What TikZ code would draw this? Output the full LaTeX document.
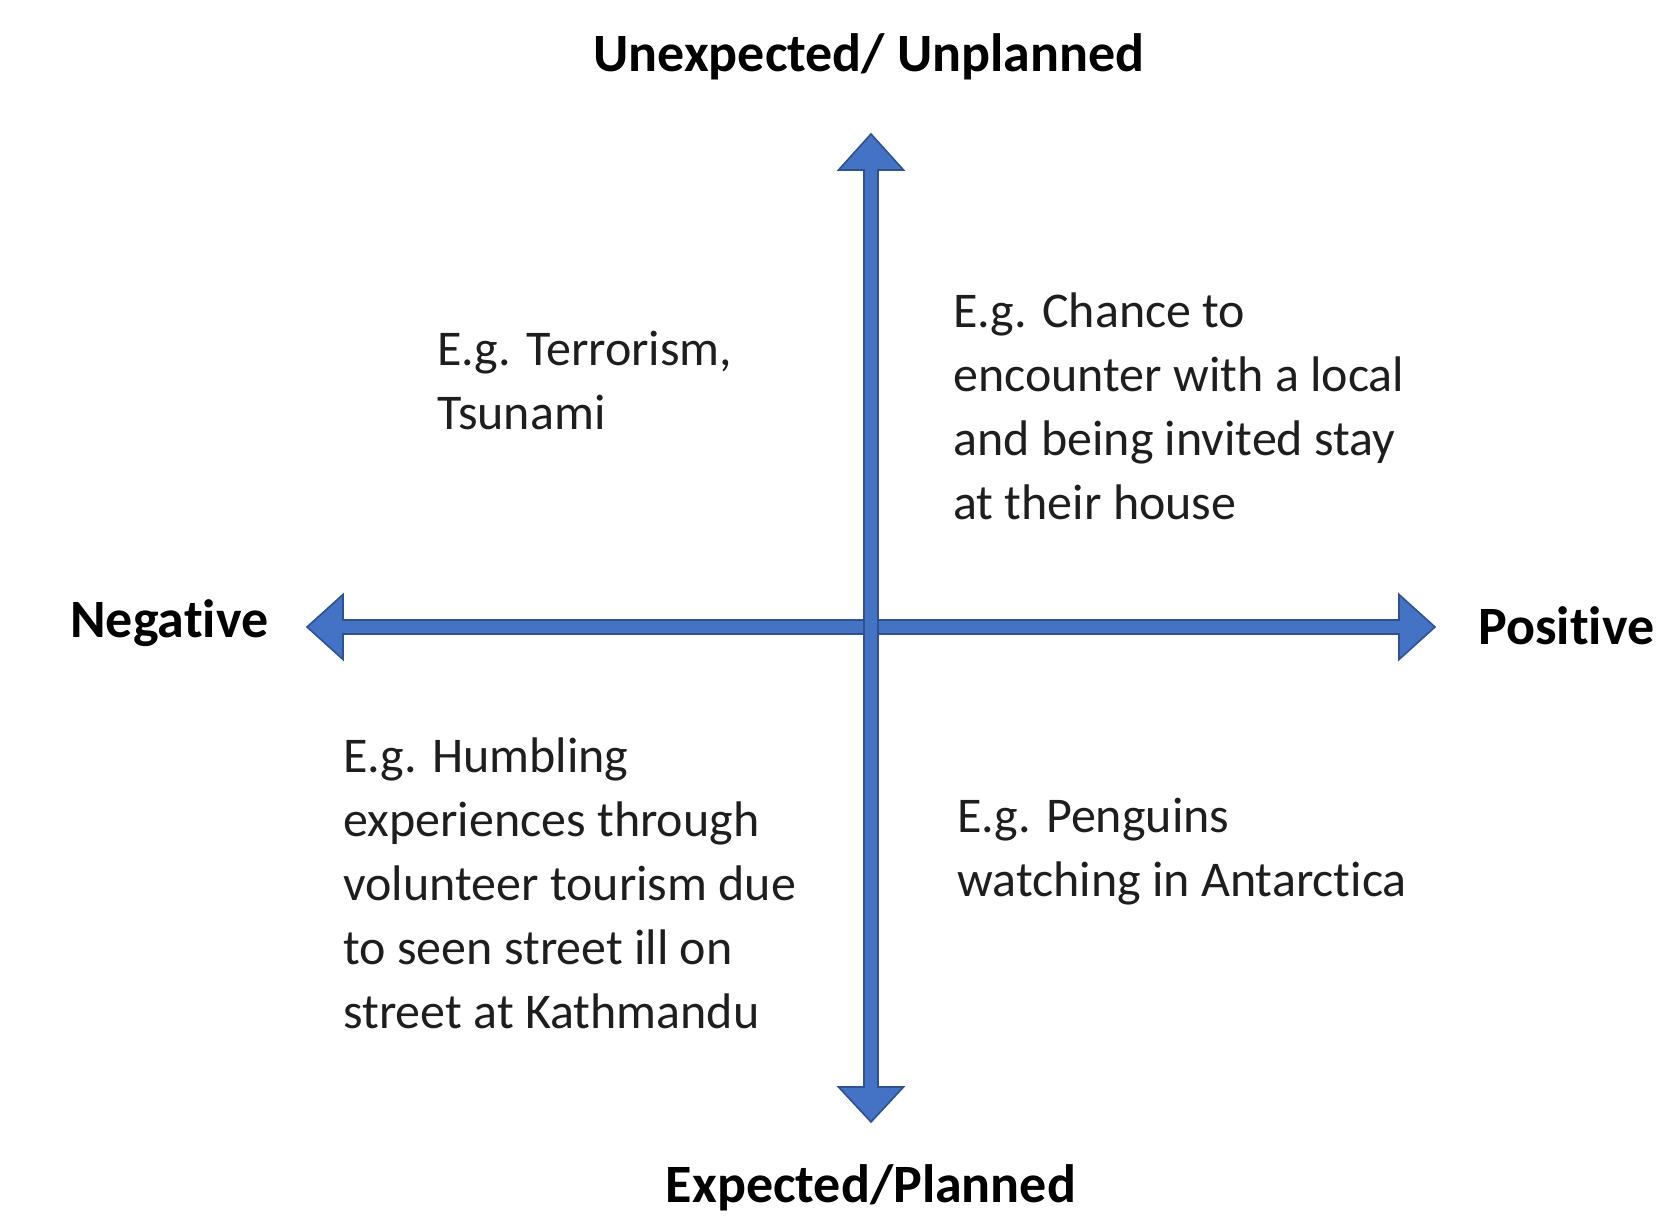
\documentclass[tikz,border=0pt]{standalone}
\usepackage{fontspec}
\setmainfont{Carlito}[Ligatures={NoCommon}]
\definecolor{axisfill}{HTML}{4472C4}
\definecolor{axisline}{HTML}{2F528F}
\definecolor{bodytext}{HTML}{1E1E1E}
\begin{document}
\begin{tikzpicture}[x=0.5pt,y=-0.5pt,
  axis/.style={fill=axisfill,draw=axisline,line width=0.8pt,line join=miter},
  pole/.style={font=\fontsize{27}{32}\selectfont\bfseries,text=black,inner sep=0pt},
  example/.style={font=\fontsize{25}{32}\selectfont,text=bodytext,inner sep=0pt,align=left,anchor=north west}]
\path[use as bounding box] (0,0) rectangle (1673,1224);
% horizontal axis
\path[axis] (307,627) -- (343,594.5) -- (343,620) -- (1399,620) -- (1399,594.5) -- (1435,627)
  -- (1399,659.5) -- (1399,634) -- (343,634) -- (343,659.5) -- cycle;
% vertical axis
\path[axis] (871,134) -- (903.5,170) -- (878,170) -- (878,1087) -- (903.5,1087) -- (871,1122)
  -- (838.5,1087) -- (864,1087) -- (864,170) -- (838.5,170) -- cycle;
% pole labels
\node[pole,anchor=base] (top) at (869,72) {Unexpected/ Unplanned};
\node[pole,anchor=base] (bottom) at (871,1202) {Expected/Planned};
\node[pole,anchor=base west] (left) at (70,637) {Negative};
\node[pole,anchor=base west] (right) at (1478,644) {Positive};
% quadrant examples (north = first baseline - strut height 44.8px)
\node[example] (tl) at (437,320.2) {\strut E.g. Terrorism,\\Tsunami};
\node[example] (tr) at (953,282.2) {\strut E.g. Chance to\\encounter with a local\\and being invited stay\\at their house};
\node[example] (bl) at (343,727.2) {\strut E.g. Humbling\\experiences through\\volunteer tourism due\\to seen street ill on\\street at Kathmandu};
\node[example] (br) at (957,787.2) {\strut E.g. Penguins\\watching in Antarctica};
\end{tikzpicture}
\end{document}
